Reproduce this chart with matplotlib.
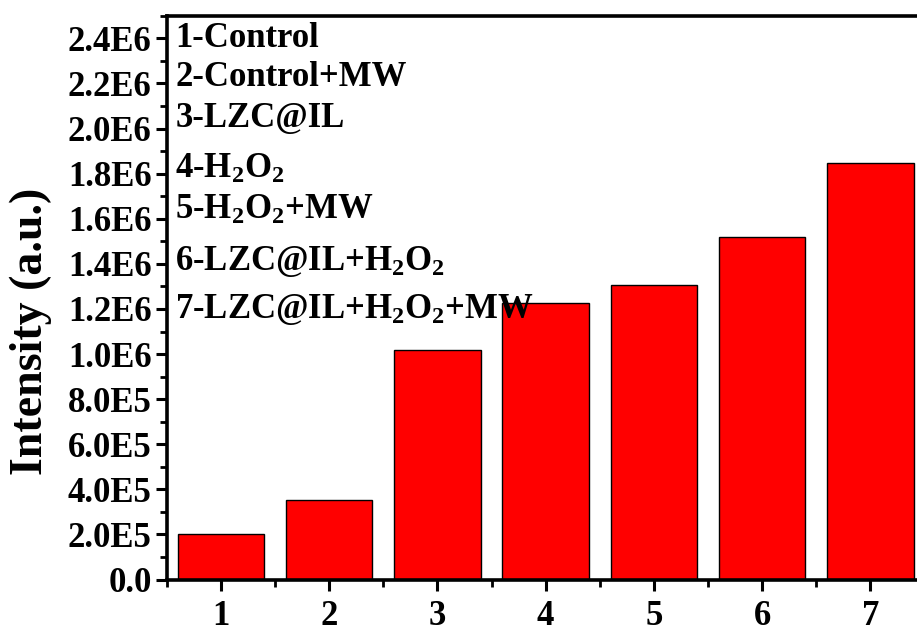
import numpy as np
import matplotlib
matplotlib.use("Agg")
import matplotlib.pyplot as plt
from matplotlib.ticker import MultipleLocator

# data
groups = [1, 2, 3, 4, 5, 6, 7]
intensity = [2.03e5, 3.52e5, 1.017e6, 1.225e6, 1.308e6, 1.518e6, 1.845e6]
ytick_vals = [0, 2e5, 4e5, 6e5, 8e5, 1.0e6, 1.2e6, 1.4e6, 1.6e6, 1.8e6, 2.0e6, 2.2e6, 2.4e6]
ytick_text = ["0.0", "2.0E5", "4.0E5", "6.0E5", "8.0E5", "1.0E6", "1.2E6",
              "1.4E6", "1.6E6", "1.8E6", "2.0E6", "2.2E6", "2.4E6"]
legend_lines = ["1-Control", "2-Control+MW", "3-LZC@IL", "4-H$_2$O$_2$",
                "5-H$_2$O$_2$+MW", "6-LZC@IL+H$_2$O$_2$", "7-LZC@IL+H$_2$O$_2$+MW"]

plt.rcParams['font.family'] = ['Liberation Serif', 'DejaVu Serif']
plt.rcParams['font.weight'] = 'bold'
plt.rcParams['mathtext.fontset'] = 'custom'
plt.rcParams['mathtext.rm'] = 'Liberation Serif:bold'
plt.rcParams['mathtext.it'] = 'Liberation Serif:bold'
plt.rcParams['mathtext.bf'] = 'Liberation Serif:bold'

fig = plt.figure(figsize=(9.17, 6.30), dpi=100)
# axes runs slightly past the right edge, as in the cropped original
ax = fig.add_axes([0.182, 0.080, 0.826, 0.895])

ax.bar(groups, intensity, width=0.8, color='#ff0000', edgecolor='black', linewidth=1)

ax.set_xlim(0.5, 7.5)
ax.set_ylim(0, 2.5e6)
ax.set_xticks(groups)
ax.set_xticklabels([str(g) for g in groups])
ax.xaxis.set_minor_locator(MultipleLocator(0.5))
ax.set_yticks(ytick_vals)
ax.set_yticklabels(ytick_text)
ax.yaxis.set_minor_locator(MultipleLocator(1e5))

for s in ax.spines.values():
    s.set_linewidth(2.6)
ax.tick_params(which='major', direction='out', length=8, width=2.2, labelsize=25, pad=3)
ax.tick_params(which='minor', direction='out', length=5, width=2)
ax.tick_params(axis='x', which='major', pad=7)

ax.set_ylabel("Intensity (a.u.)", fontsize=33, fontweight='bold')
ax.yaxis.set_label_coords(-0.152, 0.44)

# legend-like text block, one line each (pixel centres from the reference)
line_y_px = [39, 78, 119, 170, 211, 262, 310]
for txt, ypx in zip(legend_lines, line_y_px):
    ax.text(0.011, (580 - ypx) / 564, txt, transform=ax.transAxes,
            fontsize=25, fontweight='bold', va='center', ha='left')

fig.savefig("out.png", dpi=100)
